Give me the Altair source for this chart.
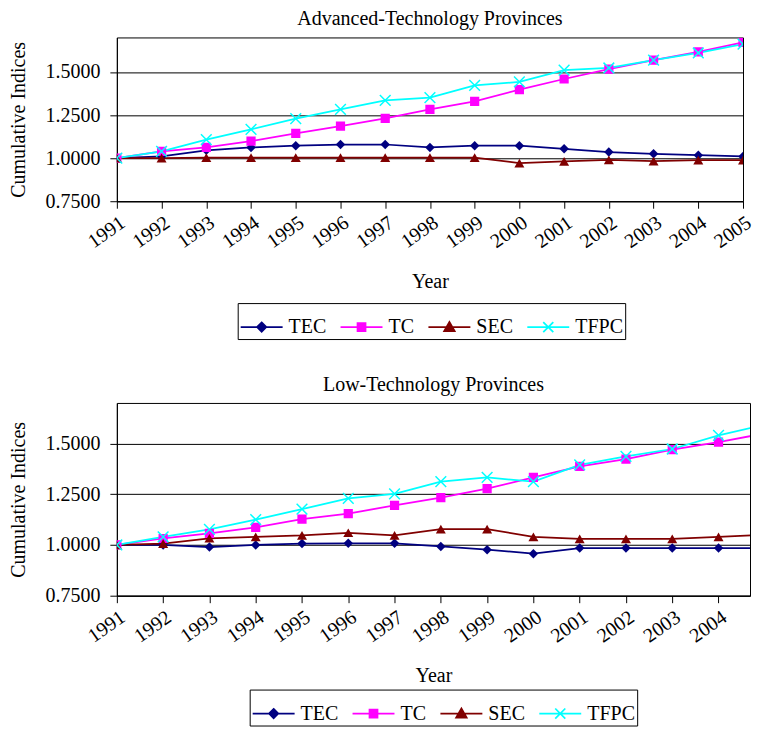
import altair as alt
import pandas as pd

years = list(range(1991, 2006))
series_names = ["TEC", "TC", "SEC", "TFPC"]
series_colors = ["#000080", "#FF00FF", "#800000", "#00FFFF"]

adv_tec = [1.000, 1.010, 1.045, 1.062, 1.072, 1.079, 1.079, 1.062, 1.072, 1.072, 1.054, 1.035, 1.025, 1.017, 1.010]
adv_tc = [1.000, 1.039, 1.062, 1.099, 1.143, 1.186, 1.231, 1.283, 1.329, 1.397, 1.459, 1.516, 1.568, 1.616, 1.671]
adv_sec = [1.000, 1.000, 1.003, 1.003, 1.003, 1.003, 1.003, 1.003, 1.003, 0.971, 0.981, 0.990, 0.983, 0.988, 0.988]
adv_tfpc = [1.000, 1.039, 1.107, 1.167, 1.229, 1.283, 1.335, 1.351, 1.422, 1.442, 1.510, 1.523, 1.568, 1.610, 1.661]

low_tec = [1.000, 1.000, 0.990, 1.000, 1.007, 1.008, 1.008, 0.993, 0.977, 0.957, 0.985, 0.985, 0.985, 0.985, 0.985]
low_tc = [1.000, 1.032, 1.057, 1.087, 1.127, 1.155, 1.195, 1.233, 1.278, 1.333, 1.387, 1.423, 1.470, 1.507, 1.550]
low_sec = [1.000, 1.007, 1.033, 1.040, 1.047, 1.060, 1.047, 1.078, 1.078, 1.040, 1.030, 1.030, 1.030, 1.040, 1.050]
low_tfpc = [1.000, 1.040, 1.077, 1.125, 1.177, 1.230, 1.252, 1.312, 1.333, 1.312, 1.395, 1.437, 1.473, 1.540, 1.593]

y_ticks = [0.75, 1.00, 1.25, 1.50]
panel_titles = ["Advanced-Technology Provinces", "Low-Technology Provinces"]

FONT = "Liberation Serif"


def make_df(vals_by_series):
    rows = []
    for name, vals in zip(series_names, vals_by_series):
        for yr, v in zip(years, vals):
            rows.append({"Year": yr, "value": v, "series": name})
    return pd.DataFrame(rows)


marker_shapes = ["diamond", "square", "triangle-up", "M-1,-1L1,1M-1,1L1,-1"]
marker_filled = [True, True, True, False]
marker_sizes = [90, 85, 100, 115]
legend_paths = [
    "M-1,0L1,0M0,-0.22L0.22,0L0,0.22L-0.22,0Z",
    "M-1,0L1,0M-0.19,-0.19L0.19,-0.19L0.19,0.19L-0.19,0.19Z",
    "M-1,0L1,0M0,-0.24L0.25,0.2L-0.25,0.2Z",
    "M-1,0L1,0M-0.24,-0.24L0.24,0.24M-0.24,0.24L0.24,-0.24",
]


def panel(df, title, width, height, x_max, tick_years, leg_x, leg_y):
    x = alt.X("Year:Q", title="Year",
              scale=alt.Scale(domain=[1991, x_max], nice=False, zero=False),
              axis=alt.Axis(values=tick_years, format="d", grid=False, labelAngle=-35,
                            labelAlign="right", labelBaseline="top", labelPadding=4,
                            tickSize=7, titlePadding=20))
    y = alt.Y("value:Q", title="Cumulative Indices",
              scale=alt.Scale(domain=[0.75, 1.70], nice=False, zero=False),
              axis=alt.Axis(values=y_ticks, format=".4f", grid=True, tickSize=7,
                            labelPadding=10, titlePadding=16))
    base = alt.Chart(df)
    layers = []
    for name, col in zip(series_names, series_colors):
        layers.append(
            base.transform_filter(alt.datum.series == name)
            .mark_line(strokeWidth=1.75, color=col, clip=True)
            .encode(x=x, y=y, order="Year:Q")
        )
    for name, col, shp, fil, sz in zip(series_names, series_colors, marker_shapes, marker_filled, marker_sizes):
        layers.append(
            base.transform_filter(alt.datum.series == name)
            .mark_point(filled=fil, shape=shp, size=sz, color=col, opacity=1,
                        strokeWidth=1.5, clip=True)
            .encode(x=x, y=y)
        )
    leg = alt.Legend(title=None, orient="none", legendX=leg_x, legendY=leg_y,
                     direction="horizontal", columns=4, strokeColor="black",
                     padding=2, labelFont=FONT, labelFontSize=20, labelOffset=5,
                     symbolSize=1764, symbolStrokeWidth=1.75, columnPadding=10,
                     labelColor="black")
    hidden = base.transform_filter("datum.value < 0").mark_point(filled=True, opacity=1).encode(
        x=x, y=y,
        fill=alt.Fill("series:N", scale=alt.Scale(domain=series_names, range=series_colors), legend=leg),
        stroke=alt.Stroke("series:N", scale=alt.Scale(domain=series_names, range=series_colors), legend=leg),
        shape=alt.Shape("series:N", scale=alt.Scale(domain=series_names, range=legend_paths), legend=leg),
    )
    layers.append(hidden)
    return alt.layer(*layers).properties(
        width=width, height=height,
        title=alt.TitleParams(title, font=FONT, fontSize=20, fontWeight="normal",
                              anchor="middle", frame="group", offset=8, color="black"),
    )


top = panel(make_df([adv_tec, adv_tc, adv_sec, adv_tfpc]), panel_titles[0], 627, 164, 2005,
            years, 121, 266)
bottom = panel(make_df([low_tec, low_tc, low_sec, low_tfpc]), panel_titles[1], 634, 193, 2004.68,
               years[:-1], 133, 287)

chart = alt.vconcat(top, bottom, spacing=34).resolve_scale(
    fill="independent", stroke="independent", shape="independent"
).resolve_legend(
    fill="independent", stroke="independent", shape="independent"
).properties(padding=0).configure_view(
    stroke="black", strokeWidth=1
).configure_axis(
    labelFont=FONT, titleFont=FONT, labelFontSize=20, titleFontSize=20,
    titleFontWeight="normal", labelColor="black", titleColor="black",
    domainColor="black", tickColor="black", gridColor="black", gridWidth=1,
    domainWidth=1, tickWidth=1, labelOverlap=False
)

chart.save("out.html", embed_options={"renderer": "svg", "actions": False})
